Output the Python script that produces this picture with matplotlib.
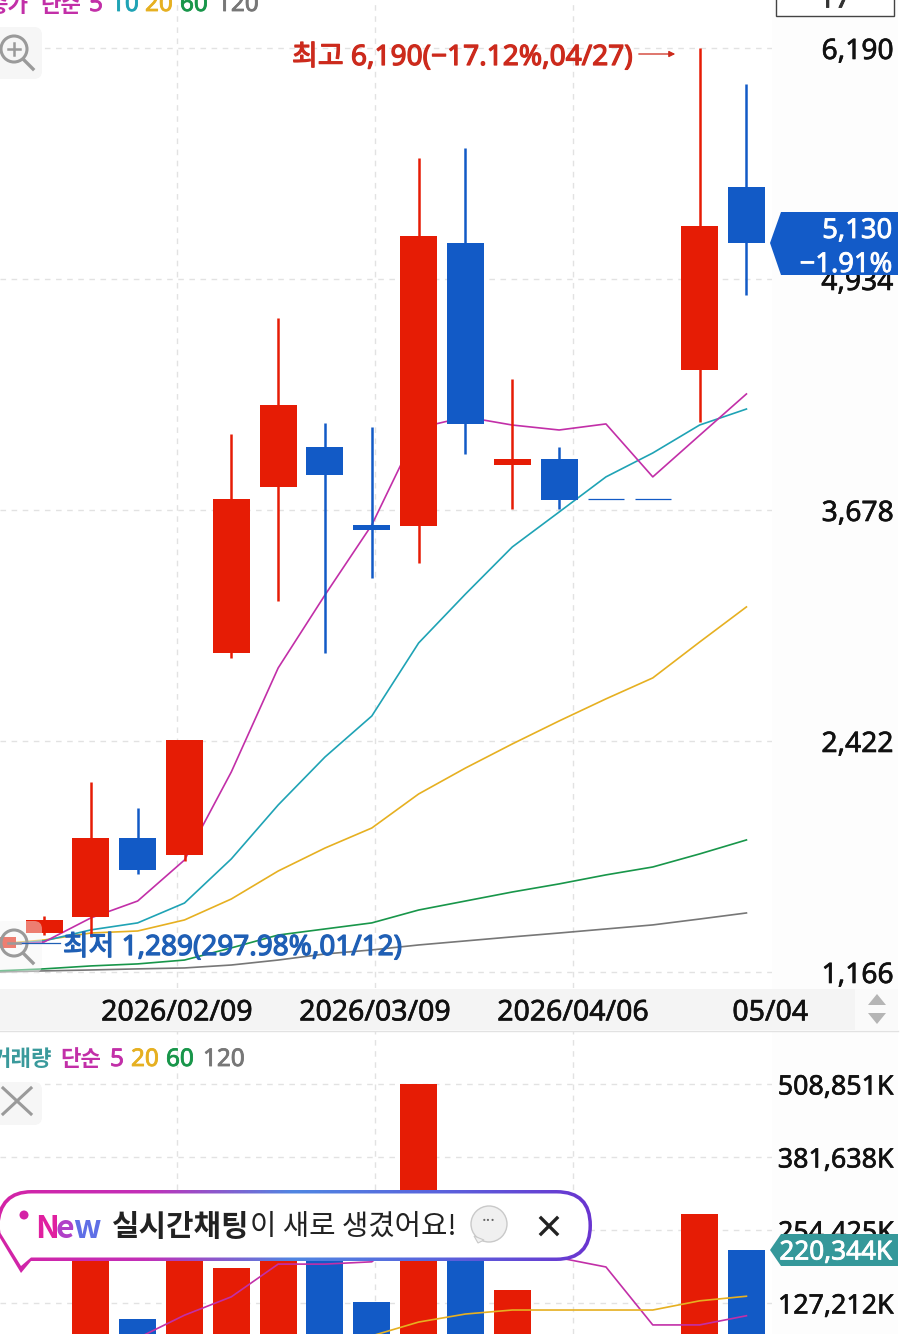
import numpy as np
import matplotlib
matplotlib.use("Agg")
import matplotlib.pyplot as plt
from matplotlib.patches import Rectangle, Polygon, PathPatch, Circle, FancyBboxPatch
from matplotlib.patheffects import withStroke
from matplotlib.path import Path
from matplotlib.colors import LinearSegmentedColormap

plt.rcParams['font.family'] = ['Noto Sans', 'Noto Sans CJK KR', 'DejaVu Sans']
HANGUL = ['Noto Sans CJK KR', 'DejaVu Sans']

# Weekly candles, first one is 01/12 and sits mostly off the left edge
candle_idx = np.arange(-1, 16)
opens = [1297, 1378, 1465, 1895, 1802, 2901, 3803, 4021, 3598, 3591, 5130, 3925, 3955, 3738, 3738, 4439, 5434]
highs = [1356, 1471, 2199, 2058, 2428, 4091, 4722, 4151, 4129, 5592, 5646, 4390, 4021, 3738, 3738, 6190, 5994]
lows = [1289, 1367, 1357, 1699, 1770, 2873, 3183, 2901, 3308, 3390, 3983, 3684, 3684, 3738, 3738, 4157, 4847]
closes = [1356, 1449, 1895, 1721, 2428, 3738, 4249, 3868, 3568, 5168, 4146, 3955, 3732, 3738, 3738, 5222, 5130]
is_up = [True, True, True, False, True, True, True, False, False, True, False, True, False, False, False, True, False]

ma5 = [1313, 1329, 1460, 1552, 1775, 2254, 2819, 3216, 3597, 4124, 4184, 4140, 4113, 4146, 3858, 4084, 4309]
ma10 = [1313, 1335, 1395, 1433, 1541, 1781, 2074, 2335, 2558, 2955, 3221, 3477, 3667, 3858, 3988, 4140, 4227]
ma20 = [1318, 1340, 1378, 1389, 1449, 1563, 1715, 1840, 1949, 2134, 2275, 2406, 2531, 2651, 2765, 2960, 3151]
ma60 = [1172, 1183, 1199, 1210, 1231, 1297, 1367, 1400, 1433, 1503, 1552, 1601, 1645, 1694, 1737, 1808, 1884]
ma120 = [1166, 1172, 1177, 1183, 1188, 1204, 1231, 1264, 1286, 1313, 1335, 1357, 1378, 1400, 1422, 1454, 1487]

price_ticks = [1166, 2422, 3678, 4934, 6190]
price_tick_labels = ['1,166', '2,422', '3,678', '4,934', '6,190']

date_pos = [2.84, 7.07, 11.30, 15.51]
date_labels = ['2026/02/09', '2026/03/09', '2026/04/06', '05/04']

# Volume in thousands
volume = [30, 40, 228, 99, 263, 188, 237, 220, 129, 508.851, 254, 150, 60, 40, 45, 282, 220.344]
vol_ma5_idx = np.arange(2, 16)
vol_ma5 = [66, 106, 138, 195, 195, 199, 263, 307, 281, 206, 190, 89, 89, 105]
vol_ma20_idx = np.arange(7, 16)
vol_ma20 = [70, 94, 108, 115, 115, 115, 115, 131, 139]

vol_ticks = [127.212, 254.425, 381.638, 508.851]
vol_tick_labels = ['127,212K', '254,425K', '381,638K', '508,851K']

RED = '#e61c05'
BLUE = '#125ac6'
TEXT_RED = '#cc2a1c'
TEXT_BLUE = '#1f5fb5'
MAGENTA = '#c22fa8'
TEAL = '#1fa3b5'
YELLOW = '#e6b021'
GREEN = '#18964a'
GRAY = '#777777'
GRID = '#e2e2e2'
W, H = 900, 1334
FS = 20.3
FS_VOL = 19.3

fig = plt.figure(figsize=(W / 100, H / 100), dpi=100, facecolor='white')


def px_axes(x0, y0, x1, y1, **kw):
    return fig.add_axes([x0 / W, 1 - y1 / H, (x1 - x0) / W, (y1 - y0) / H], **kw)


def thicken(txt, width=0.45):
    # Noto Sans only comes in one weight here, a thin stroke gives the medium look
    txt.set_path_effects([withStroke(linewidth=width, foreground=txt.get_color())])


# background strip behind the date labels
bg = px_axes(0, 0, W, H, zorder=0)
bg.set_xlim(0, W)
bg.set_ylim(H, 0)
bg.axis('off')
bg.add_patch(Rectangle((0, 989), 855, 41, color='#f4f4f4', lw=0))
bg.add_patch(Rectangle((855, 989), 43, 41, color='#fafafa', lw=0))
bg.plot([0, 898], [1031, 1031], color='#e2e2e2', lw=1)
bg.add_patch(Rectangle((772, 0), 126, 989, color='#fdfdfd', lw=0))
bg.add_patch(Rectangle((772, 1031), 126, 303, color='#fdfdfd', lw=0))


def style_axes(ax, ticks, labels, size):
    ax.set_facecolor('none')
    for s in ax.spines.values():
        s.set_visible(False)
    ax.yaxis.tick_right()
    ax.set_yticks(ticks)
    ax.set_yticklabels(labels, fontsize=size, color='#111111', ha='right')
    ax.tick_params(axis='y', length=0, pad=87.5)
    for t in ax.get_yticklabels():
        thicken(t)
    ax.grid(True, color=GRID, lw=1, dashes=(4, 4))
    ax.set_axisbelow(True)


# price panel
ax = px_axes(0, 0, 772, 988, zorder=1)
ax.set_xlim(-0.94, 15.546)
ax.set_ylim(1079, 6451)
style_axes(ax, price_ticks, price_tick_labels, FS)
ax.set_xticks(date_pos)
ax.set_xticklabels(date_labels, fontsize=20.5, color='#111111')
for t in ax.get_xticklabels():
    thicken(t)
ax.tick_params(axis='x', length=0, pad=7.5)
ax.xaxis.get_gridlines()[-1].set_visible(False)

for series, color in [(ma120, GRAY), (ma60, GREEN), (ma20, YELLOW), (ma10, TEAL), (ma5, MAGENTA)]:
    ax.plot(candle_idx, series, color=color, lw=1.2, zorder=2)

colors = [RED if u else BLUE for u in is_up]
ax.vlines(candle_idx, lows, highs, colors=colors, lw=1.8, zorder=3)
for i, o, c, col in zip(candle_idx, opens, closes, colors):
    if o == c:
        ax.hlines(o, i - 0.39, i + 0.39, colors=col, lw=0.9, zorder=3)
    else:
        ax.bar(i, abs(c - o), bottom=min(o, c), width=0.79, color=col, zorder=3)

# volume panel
ax2 = px_axes(0, 1031, 772, H, zorder=1)
ax2.set_xlim(-0.94, 15.546)
ax2.set_ylim(73.2, 601.2)
style_axes(ax2, vol_ticks, vol_tick_labels, FS_VOL)
ax2.set_xticks(date_pos)
ax2.tick_params(axis='x', length=0, labelbottom=False)
ax2.xaxis.get_gridlines()[-1].set_visible(False)
ax2.bar(candle_idx, volume, width=0.79, color=colors, zorder=2)
ax2.plot(vol_ma5_idx, vol_ma5, color=MAGENTA, lw=1.2, zorder=3)
ax2.plot(vol_ma20_idx, vol_ma20, color=YELLOW, lw=1.2, zorder=3)

# overlay in pixel coordinates for labels, tags, icons and the banner
ov = px_axes(0, 0, W, H, zorder=5)
ov.set_xlim(0, W)
ov.set_ylim(H, 0)
ov.axis('off')
ov.patch.set_alpha(0)


def label(x, y, s, color, ha='left', size=17.5, stroke=0.6, **kw):
    t = ov.text(x, y, s, color=color, ha=ha, va='center', fontsize=size, **kw)
    if stroke:
        thicken(t, stroke)
    return t


# top legend, cut by the top edge
label(28, 5, '종가', MAGENTA, ha='right', size=16, stroke=0, family=HANGUL, weight='bold')
label(40, 5, '단순', MAGENTA, size=16, stroke=0, family=HANGUL, weight='bold')
label(89, 5, '5', MAGENTA)
label(111, 5, '10', TEAL)
label(145, 5, '20', YELLOW)
label(180, 5, '60', GREEN)
label(217, 5, '120', GRAY)
ov.add_patch(Rectangle((775.5, -6), 118, 22, fc='white', ec='#444444', lw=1))
label(835, 0, '17', '#333333', ha='center', size=FS)

# volume legend
label(52, 1059, '거래량', '#3a9a9c', ha='right', size=16, stroke=0, family=HANGUL, weight='bold')
label(60, 1059, '단순', MAGENTA, size=16, stroke=0, family=HANGUL, weight='bold')
label(110, 1060, '5', MAGENTA)
label(131, 1060, '20', YELLOW)
label(166, 1060, '60', GREEN)
label(203, 1060, '120', GRAY)

# high / low annotations
label(292, 58, '최고 6,190(−17.12%,04/27)', TEXT_RED, size=20.2, stroke=0.9)
ov.annotate('', xy=(678, 54), xytext=(636, 54),
            arrowprops=dict(arrowstyle='-|>', color=TEXT_RED, lw=0.9, mutation_scale=9))
label(63, 948, '최저 1,289(297.98%,01/12)', TEXT_BLUE, size=20.1, stroke=0.9)
ov.plot([20, 60], [943, 943], color=TEXT_BLUE, lw=0.9)


def zoom_icon(cx, cy, alpha):
    ov.add_patch(FancyBboxPatch((-6, cy - 22), 48, 52, boxstyle='round,pad=0,rounding_size=8',
                                fc='#f6f6f6', ec='none', alpha=alpha))
    ov.add_patch(Circle((cx, cy), 13, fc='none', ec='#9a9a9a', lw=2.2))
    ov.plot([cx + 10, cx + 19], [cy + 11, cy + 20], color='#9a9a9a', lw=2.4)
    ov.plot([cx - 6, cx + 6], [cy, cy], color='#9a9a9a', lw=1.8)


zoom_icon(14, 49, 1.0)
ov.plot([14, 14], [43, 55], color='#9a9a9a', lw=1.8)
zoom_icon(14, 943, 0.45)

# close icon for the volume panel
ov.add_patch(FancyBboxPatch((-6, 1082), 48, 43, boxstyle='round,pad=0,rounding_size=8', fc='#f6f6f6', ec='none'))
ov.plot([3, 31], [1088, 1114], color='#9a9a9a', lw=2.2)
ov.plot([3, 31], [1114, 1088], color='#9a9a9a', lw=2.2)

# current price tag
ov.add_patch(Polygon([(770, 243), (781, 212), (898, 212), (898, 275), (781, 275)], fc='#135bc8', ec='none'))
label(892, 231, '5,130', 'white', ha='right', size=19.7)
label(892, 265, '−1.91%', 'white', ha='right', size=19.7)

# current volume tag
ov.add_patch(Polygon([(770, 1250), (781, 1234), (898, 1234), (898, 1266), (781, 1266)], fc='#35989a', ec='none'))
label(892, 1253, '220,344K', 'white', ha='right', size=18.8)

# scroll arrows next to the dates
ov.add_patch(Polygon([(868, 1005), (886, 1005), (877, 994)], fc='#b5b5b5', ec='none'))
ov.add_patch(Polygon([(868, 1013), (886, 1013), (877, 1024)], fc='#b5b5b5', ec='none'))


def banner_path(d):
    x0, x1, y0, y1 = -4 + d, 592 - d, 1190 + d, 1261 - d
    r = (y1 - y0) / 2
    verts = [(x0 + r, y0), (x1 - r, y0), (x1, y0), (x1, y0 + r), (x1, y1), (x1 - r, y1),
             (31, y1), (21, 1273 - 2 * d), (x0 + 1, 1233), (x0, y0 + r), (x0 + 2, y0), (x0 + r, y0), (x0 + r, y0)]
    codes = [Path.MOVETO, Path.LINETO, Path.CURVE3, Path.CURVE3, Path.CURVE3, Path.CURVE3,
             Path.LINETO, Path.LINETO, Path.LINETO, Path.LINETO, Path.CURVE3, Path.CURVE3, Path.CLOSEPOLY]
    return Path(verts, codes)


# chat banner with gradient border
border_cmap = LinearSegmentedColormap.from_list('border', ['#d423a6', '#c22fb8', '#4f86e2', '#5a62dc', '#6a35d0'])
outer = PathPatch(banner_path(0), fc='none', ec='none', transform=ov.transData)
ov.add_patch(outer)
img = ov.imshow(np.linspace(0, 1, 256).reshape(1, -1), extent=(-4, 592, 1275, 1188), cmap=border_cmap,
                aspect='auto', zorder=6)
img.set_clip_path(outer)
ov.set_xlim(0, W)
ov.set_ylim(H, 0)
ov.add_patch(PathPatch(banner_path(3.5), fc='white', ec='none', zorder=7))
ov.add_patch(Circle((24, 1215), 4.5, fc='#d423a6', ec='none', zorder=8))
for x, ch, col in [(35, 'N', '#e020a0'), (56, 'e', '#b040c8'), (73, 'w', '#5f6fe6')]:
    ov.text(x, 1229, ch, color=col, fontsize=23, fontweight='bold', va='center', zorder=8, family=HANGUL)
ov.text(112, 1227, '실시간채팅', color='#222222', fontsize=21.5, fontweight='bold', va='center', zorder=8, family=HANGUL)
ov.text(250, 1227, '이 새로 생겼어요!', color='#222222', fontsize=20.7, va='center', zorder=8, family=HANGUL)
ov.add_patch(Circle((489, 1224), 18, fc='#f0f0f0', ec='#c9c9c9', lw=1, zorder=8))
ov.add_patch(Polygon([(474, 1236), (478, 1243), (484, 1240)], fc='#f0f0f0', ec='#c9c9c9', lw=0.8, zorder=8))
ov.text(489, 1222, '···', color='#666666', fontsize=12, ha='center', va='center', zorder=9)
ov.plot([541, 557], [1218, 1234], color='#222222', lw=2.4, zorder=8)
ov.plot([541, 557], [1234, 1218], color='#222222', lw=2.4, zorder=8)

fig.savefig('out.png', dpi=100)
